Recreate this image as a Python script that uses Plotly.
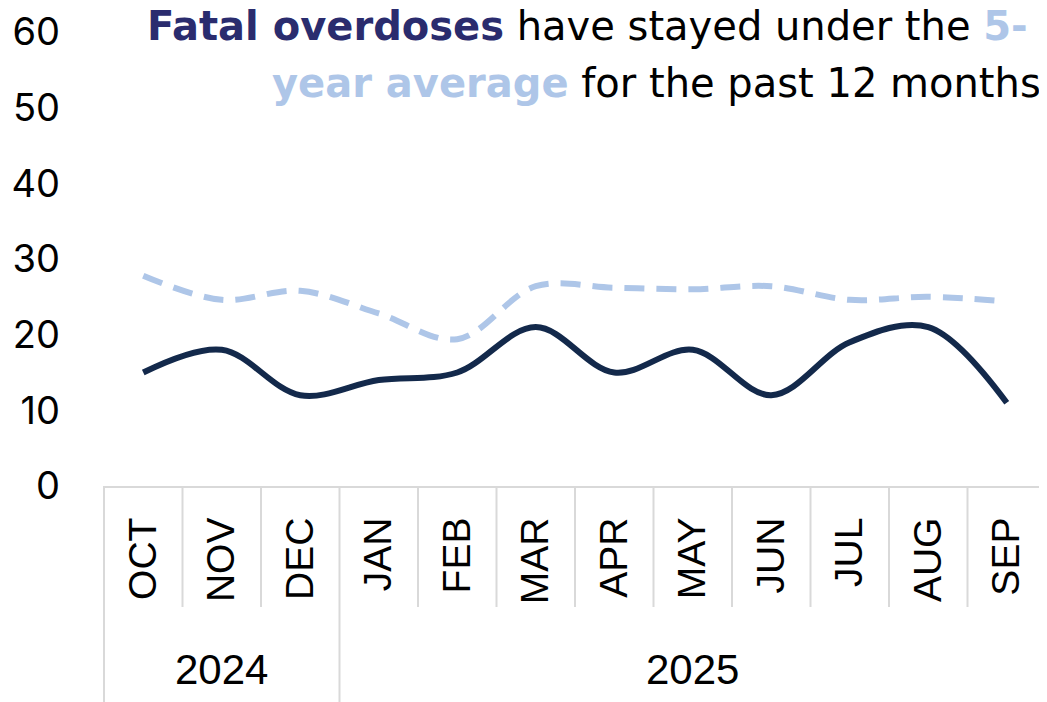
import plotly.graph_objects as go

months = ['OCT', 'NOV', 'DEC', 'JAN', 'FEB', 'MAR', 'APR', 'MAY', 'JUN', 'JUL', 'AUG', 'SEP']
years = ['2024'] * 3 + ['2025'] * 9
fatal_overdoses = [15, 18, 12, 14, 15, 21, 15, 18, 12, 19, 21, 11]
five_year_avg = [27.8, 24.6, 25.8, 22.8, 19.4, 26.4, 26.2, 26.0, 26.4, 24.6, 25.0, 24.4]

navy = '#13294B'
light_blue = '#AEC6E8'
grid_grey = '#D9D9D9'

fig = go.Figure()
fig.add_trace(go.Scatter(x=months, y=five_year_avg, mode='lines',
                         line=dict(color=light_blue, width=6, dash='20px,12px', shape='spline', smoothing=1.0),
                         name='5-year average'))
fig.add_trace(go.Scatter(x=months, y=fatal_overdoses, mode='lines',
                         line=dict(color=navy, width=6, shape='spline', smoothing=1.0),
                         name='Fatal overdoses'))

# title, two lines right aligned
line1 = ("<b><span style='color:#2A2C6E'>Fatal overdoses</span></b> have stayed under the "
         "<b><span style='color:#AEC6E8'>5-</span></b>")
line2 = "<b><span style='color:#AEC6E8'>year average</span></b> for the past 12 months"
title_font = dict(family='DejaVu Sans', size=40, color='black')
fig.add_annotation(text=line1, xref='paper', yref='paper', x=0.983, y=1.013,
                   xanchor='right', yanchor='middle', showarrow=False, font=title_font)
fig.add_annotation(text=line2, xref='paper', yref='paper', x=0.997, y=0.888,
                   xanchor='right', yanchor='middle', showarrow=False, font=title_font)

# month separators and year group dividers below the axis
n = len(months)
month_tick_bottom = -0.2665
group_bottom = -0.476
group_edges = [0] + [i for i in range(1, n) if years[i] != years[i - 1]] + [n]
for k in range(n + 1):
    y1 = group_bottom if k in group_edges else month_tick_bottom
    fig.add_shape(type='line', xref='paper', yref='paper', x0=k / n, x1=k / n, y0=0, y1=y1,
                  line=dict(color=grid_grey, width=2))
for a, b in zip(group_edges[:-1], group_edges[1:]):
    fig.add_annotation(text=years[a], xref='paper', yref='paper', x=(a + b) / 2 / n, y=-0.405,
                       xanchor='center', yanchor='middle', showarrow=False,
                       font=dict(family='Liberation Sans', size=42, color='black'))

fig.update_layout(
    width=1039, height=694,
    margin=dict(l=96, r=1, t=24, b=216),
    plot_bgcolor='white', paper_bgcolor='white',
    showlegend=False,
)
fig.update_yaxes(range=[0, 60], dtick=10, showgrid=False, zeroline=False, showline=False,
                 tickfont=dict(family='Inter', size=38, color='black'),
                 ticklabelstandoff=43, automargin=False)
fig.update_xaxes(type='category', range=[-0.5, n - 0.5], tickangle=-90, showgrid=False,
                 showline=True, linecolor=grid_grey, linewidth=2, ticks='',
                 tickfont=dict(family='Liberation Sans', size=39, color='black'),
                 ticklabelstandoff=14, automargin=False)

fig.write_html("out.html")
